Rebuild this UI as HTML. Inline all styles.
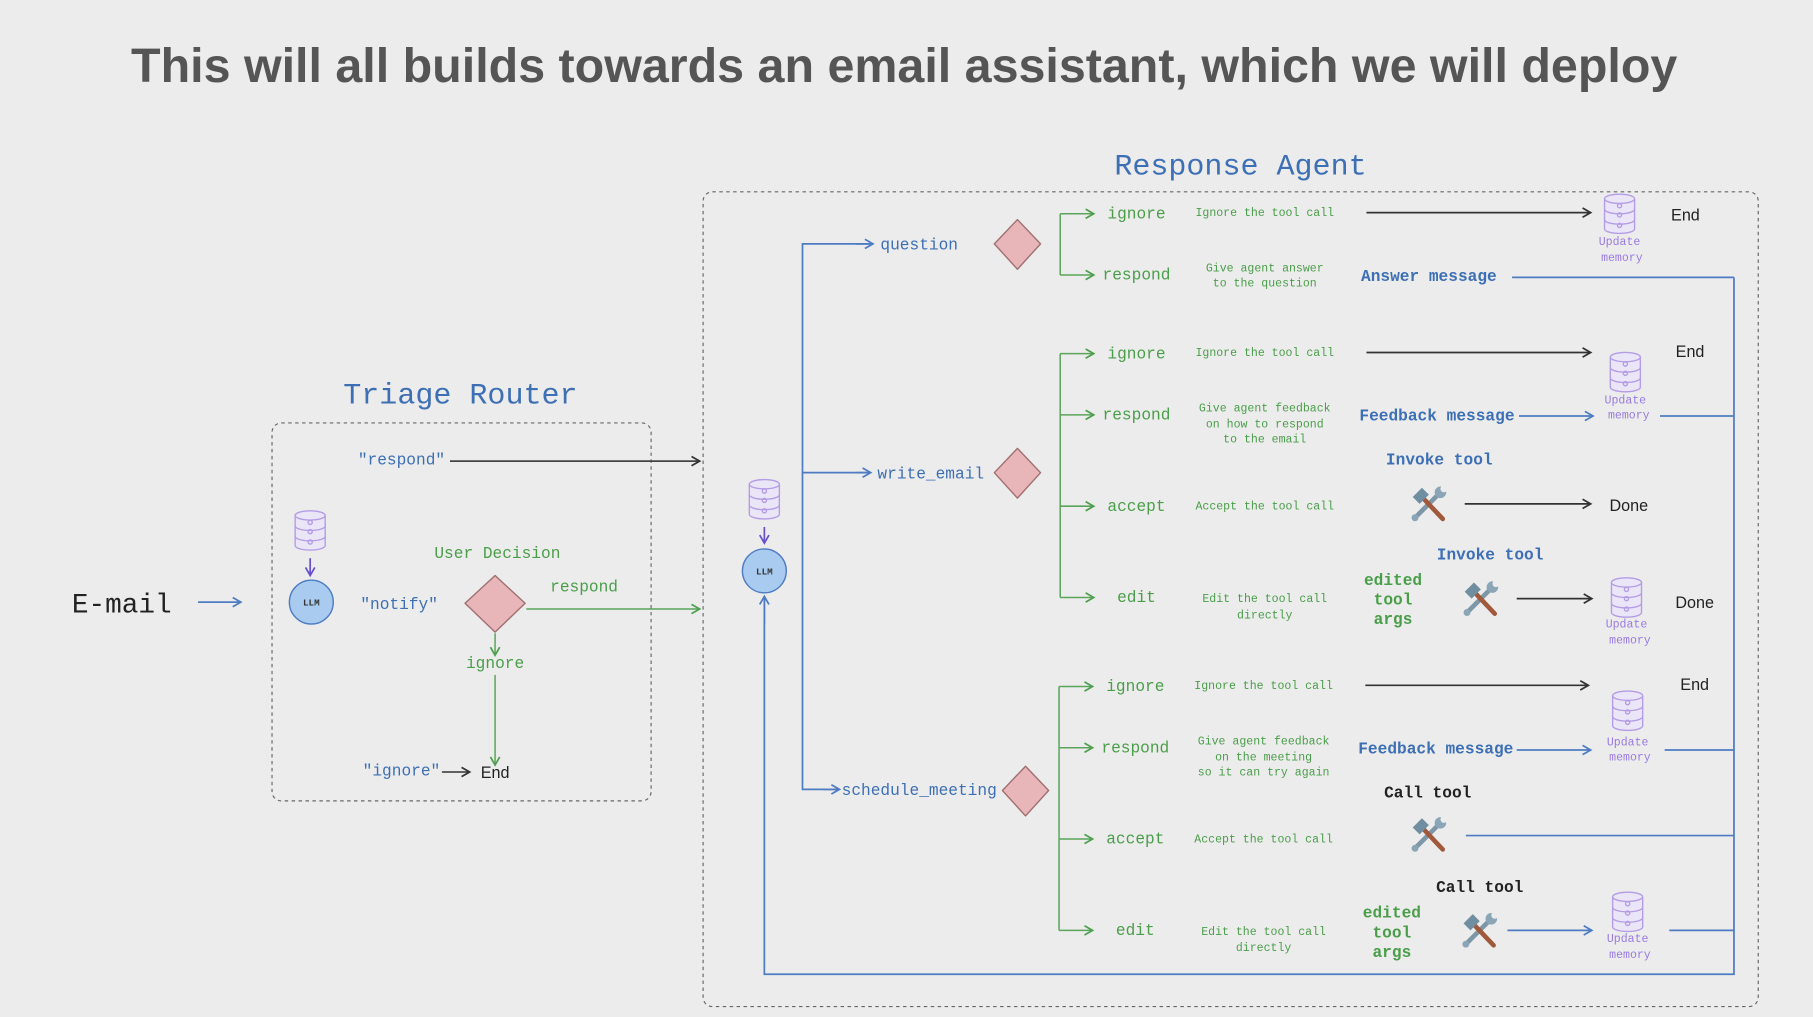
<!DOCTYPE html>
<html><head><meta charset="utf-8"><style>
html,body{margin:0;padding:0;background:#ececec;width:1813px;height:1017px;overflow:hidden}
svg{display:block}
.m{font-family:"Liberation Mono",monospace}
.t{font-family:"Liberation Sans",sans-serif}
.b{fill:#3d6fb5}.g{fill:#4a9e4a}.k{fill:#222}.p{fill:#9a7ae0}
</style></head><body>
<svg width="1813" height="1017" viewBox="0 0 1568 880" xmlns="http://www.w3.org/2000/svg">
<defs>
<marker id="ab" markerWidth="10" markerHeight="10" refX="8" refY="5" orient="auto" markerUnits="userSpaceOnUse"><path d="M1,1 L8,5 L1,9" fill="none" stroke="#4e7cc2" stroke-width="1.5"/></marker>
<marker id="ag" markerWidth="10" markerHeight="10" refX="8" refY="5" orient="auto" markerUnits="userSpaceOnUse"><path d="M1,1 L8,5 L1,9" fill="none" stroke="#4f9f4f" stroke-width="1.5"/></marker>
<marker id="ak" markerWidth="10" markerHeight="10" refX="8" refY="5" orient="auto" markerUnits="userSpaceOnUse"><path d="M1,1 L8,5 L1,9" fill="none" stroke="#333" stroke-width="1.5"/></marker>
<marker id="ap" markerWidth="10" markerHeight="10" refX="8" refY="5" orient="auto" markerUnits="userSpaceOnUse"><path d="M1,1 L8,5 L1,9" fill="none" stroke="#6a4fcf" stroke-width="1.5"/></marker>
<g id="db" fill="#ebe6f7" stroke="#b49ce6" stroke-width="1.2">
<path d="M-13,-13 v26 a13,4 0 0 0 26,0 v-26"/>
<ellipse cx="0" cy="-13" rx="13" ry="4"/>
<path d="M-13,-4 a13,4 0 0 0 26,0 M-13,5 a13,4 0 0 0 26,0" fill="none"/>
<circle cx="0" cy="-7" r="1.8" fill="none"/><circle cx="0" cy="1" r="1.8" fill="none"/><circle cx="0" cy="10" r="1.8" fill="none"/>
</g>
<g id="tool">
<path d="M-11,11 L9,-9" stroke="#7d97a8" stroke-width="4" stroke-linecap="round"/>
<circle cx="10" cy="-10" r="5" fill="#8aa5b6"/><circle cx="13" cy="-13" r="3" fill="#ececec"/>
<circle cx="-12" cy="12" r="3" fill="#8aa5b6"/>
<path d="M-6,-6 L12,13" stroke="#a0593a" stroke-width="4" stroke-linecap="round"/>
<path d="M-14,-6 L-6,-14 L0,-8 L-8,0 Z" fill="#6f8ea0"/>
</g>
</defs>

<text x="113" y="71" textLength="1338" lengthAdjust="spacingAndGlyphs" class="t" font-size="42" font-weight="bold" fill="#555">This will all builds towards an email assistant, which we will deploy</text>

<!-- Triage -->
<text x="398" y="349" text-anchor="middle" class="m b" font-size="26">Triage Router</text>
<rect x="235" y="366" width="328" height="327" rx="8" fill="none" stroke="#666" stroke-width="1" stroke-dasharray="3,3"/>
<text x="105" y="530" text-anchor="middle" class="m k" font-size="24">E-mail</text>
<line x1="171" y1="521" x2="208" y2="521" stroke="#4e7cc2" stroke-width="1.5" marker-end="url(#ab)"/>
<use href="#db" x="268" y="459"/>
<line x1="268" y1="483" x2="268" y2="498" stroke="#6a4fcf" stroke-width="1.5" marker-end="url(#ap)"/>
<circle cx="269" cy="521" r="19" fill="#a9cbef" stroke="#4e7cc2" stroke-width="1.2"/>
<text x="269" y="524" text-anchor="middle" class="m" font-size="8" font-weight="bold" fill="#333">LLM</text>
<text x="347" y="402" text-anchor="middle" class="m b" font-size="14">"respond"</text>
<line x1="389" y1="399" x2="605" y2="399" stroke="#444" stroke-width="1.5" marker-end="url(#ak)"/>
<text x="345" y="527" text-anchor="middle" class="m b" font-size="14">"notify"</text>
<text x="430" y="483" text-anchor="middle" class="m g" font-size="14">User Decision</text>
<path d="M428,498 L454,522 L428,547 L402,522 Z" fill="#e8b5b9" stroke="#a07070" stroke-width="1.2" stroke-linejoin="round"/>
<text x="505" y="512" text-anchor="middle" class="m g" font-size="14">respond</text>
<line x1="455" y1="527" x2="605" y2="527" stroke="#5aa55a" stroke-width="1.3" marker-end="url(#ag)"/>
<line x1="428" y1="548" x2="428" y2="567" stroke="#5aa55a" stroke-width="1.3" marker-end="url(#ag)"/>
<text x="428" y="578" text-anchor="middle" class="m g" font-size="14">ignore</text>
<line x1="428" y1="584" x2="428" y2="662" stroke="#5aa55a" stroke-width="1.3" marker-end="url(#ag)"/>
<text x="347" y="671" text-anchor="middle" class="m b" font-size="14">"ignore"</text>
<line x1="382" y1="668" x2="406" y2="668" stroke="#333" stroke-width="1.3" marker-end="url(#ak)"/>
<text x="428" y="673" text-anchor="middle" class="t k" font-size="14">End</text>

<!-- Response agent -->
<text x="1073" y="151" text-anchor="middle" class="m b" font-size="26">Response Agent</text>
<rect x="608" y="166" width="913" height="705" rx="8" fill="none" stroke="#666" stroke-width="1" stroke-dasharray="3,3"/>
<use href="#db" x="661" y="432"/>
<line x1="661" y1="456" x2="661" y2="470" stroke="#6a4fcf" stroke-width="1.5" marker-end="url(#ap)"/>
<circle cx="661" cy="494" r="19" fill="#a9cbef" stroke="#4e7cc2" stroke-width="1.2"/>
<text x="661" y="497" text-anchor="middle" class="m" font-size="8" font-weight="bold" fill="#333">LLM</text>

<g fill="none" stroke="#4e7cc2" stroke-width="1.5">
<path d="M755,211 H694 V683 H726"/>
<path d="M694,409 H753"/>
<path d="M1500,240 V843 H661 V517"/>
<path d="M1308,240 H1500 M1436,360 H1500 M1440,649 H1500 M1268,723 H1500 M1444,805 H1500"/>
</g>
<line x1="740" y1="211" x2="755" y2="211" stroke="#4e7cc2" stroke-width="1.5" marker-end="url(#ab)"/>
<line x1="740" y1="409" x2="753" y2="409" stroke="#4e7cc2" stroke-width="1.5" marker-end="url(#ab)"/>
<line x1="712" y1="683" x2="726" y2="683" stroke="#4e7cc2" stroke-width="1.5" marker-end="url(#ab)"/>
<line x1="661" y1="540" x2="661" y2="516" stroke="#4e7cc2" stroke-width="1.5" marker-end="url(#ab)"/>

<text x="795" y="216" text-anchor="middle" class="m b" font-size="14">question</text>
<text x="805" y="414" text-anchor="middle" class="m b" font-size="14">write_email</text>
<text x="795" y="688" text-anchor="middle" class="m b" font-size="14">schedule_meeting</text>
<path d="M880,190 L900,211 L880,233 L860,211 Z" fill="#e8b5b9" stroke="#a07070" stroke-width="1.2" stroke-linejoin="round"/>
<path d="M880,388 L900,409 L880,431 L860,409 Z" fill="#e8b5b9" stroke="#a07070" stroke-width="1.2" stroke-linejoin="round"/>
<path d="M887,663 L907,684 L887,706 L867,684 Z" fill="#e8b5b9" stroke="#a07070" stroke-width="1.2" stroke-linejoin="round"/>

<g fill="none" stroke="#5aa55a" stroke-width="1.3">
<path d="M917,185 V238 M917,306 V517 M916,594 V805"/>
</g>
<g stroke="#5aa55a" stroke-width="1.3">
<line x1="917" y1="185" x2="946" y2="185" marker-end="url(#ag)"/>
<line x1="917" y1="238" x2="946" y2="238" marker-end="url(#ag)"/>
<line x1="917" y1="306" x2="946" y2="306" marker-end="url(#ag)"/>
<line x1="917" y1="359" x2="946" y2="359" marker-end="url(#ag)"/>
<line x1="917" y1="438" x2="946" y2="438" marker-end="url(#ag)"/>
<line x1="917" y1="517" x2="946" y2="517" marker-end="url(#ag)"/>
<line x1="916" y1="594" x2="945" y2="594" marker-end="url(#ag)"/>
<line x1="916" y1="647" x2="945" y2="647" marker-end="url(#ag)"/>
<line x1="916" y1="726" x2="945" y2="726" marker-end="url(#ag)"/>
<line x1="916" y1="805" x2="945" y2="805" marker-end="url(#ag)"/>
</g>
<g class="m g" font-size="14" text-anchor="middle">
<text x="983" y="189">ignore</text><text x="983" y="242">respond</text>
<text x="983" y="310">ignore</text><text x="983" y="363">respond</text>
<text x="983" y="442">accept</text><text x="983" y="521">edit</text>
<text x="982" y="598">ignore</text><text x="982" y="651">respond</text>
<text x="982" y="730">accept</text><text x="982" y="809">edit</text>
</g>
<g class="m g" font-size="10" text-anchor="middle">
<text x="1094" y="187">Ignore the tool call</text>
<text x="1094" y="235">Give agent answer</text><text x="1094" y="248">to the question</text>
<text x="1094" y="308">Ignore the tool call</text>
<text x="1094" y="356">Give agent feedback</text><text x="1094" y="370">on how to respond</text><text x="1094" y="383">to the email</text>
<text x="1094" y="441">Accept the tool call</text>
<text x="1094" y="521">Edit the tool call</text><text x="1094" y="535">directly</text>
<text x="1093" y="596">Ignore the tool call</text>
<text x="1093" y="644">Give agent feedback</text><text x="1093" y="658">on the meeting</text><text x="1093" y="671">so it can try again</text>
<text x="1093" y="729">Accept the tool call</text>
<text x="1093" y="809">Edit the tool call</text><text x="1093" y="823">directly</text>
</g>

<g stroke="#333" stroke-width="1.5">
<line x1="1182" y1="184" x2="1376" y2="184" marker-end="url(#ak)"/>
<line x1="1182" y1="305" x2="1376" y2="305" marker-end="url(#ak)"/>
<line x1="1267" y1="436" x2="1376" y2="436" marker-end="url(#ak)"/>
<line x1="1312" y1="518" x2="1377" y2="518" marker-end="url(#ak)"/>
<line x1="1181" y1="593" x2="1374" y2="593" marker-end="url(#ak)"/>
</g>
<g stroke="#4e7cc2" stroke-width="1.5">
<line x1="1314" y1="360" x2="1378" y2="360" marker-end="url(#ab)"/>
<line x1="1312" y1="649" x2="1376" y2="649" marker-end="url(#ab)"/>
<line x1="1304" y1="805" x2="1377" y2="805" marker-end="url(#ab)"/>
</g>

<g class="m b" font-size="14" font-weight="bold">
<text x="1236" y="243" text-anchor="middle">Answer message</text>
<text x="1243" y="364" text-anchor="middle">Feedback message</text>
<text x="1242" y="652" text-anchor="middle">Feedback message</text>
<text x="1245" y="402" text-anchor="middle">Invoke tool</text>
<text x="1289" y="484" text-anchor="middle">Invoke tool</text>
</g>
<g class="m k" font-size="14" font-weight="bold" text-anchor="middle">
<text x="1235" y="690">Call tool</text>
<text x="1280" y="772">Call tool</text>
</g>
<g class="m g" font-size="14" font-weight="bold" text-anchor="middle">
<text x="1205" y="506">edited</text><text x="1205" y="523">tool</text><text x="1205" y="540">args</text>
<text x="1204" y="794">edited</text><text x="1204" y="811">tool</text><text x="1204" y="828">args</text>
</g>
<g class="t k" font-size="14" text-anchor="middle">
<text x="1458" y="191">End</text><text x="1462" y="309">End</text>
<text x="1409" y="442">Done</text><text x="1466" y="526">Done</text>
<text x="1466" y="597">End</text>
</g>

<use href="#tool" x="1236" y="436"/>
<use href="#tool" x="1281" y="518"/>
<use href="#tool" x="1236" y="722"/>
<use href="#tool" x="1280" y="805"/>

<use href="#db" x="1401" y="185"/>
<use href="#db" x="1406" y="322"/>
<use href="#db" x="1407" y="517"/>
<use href="#db" x="1408" y="615"/>
<use href="#db" x="1408" y="789"/>
<g class="m p" font-size="10" text-anchor="middle">
<text x="1401" y="212">Update</text><text x="1403" y="226">memory</text>
<text x="1406" y="349">Update</text><text x="1409" y="362">memory</text>
<text x="1407" y="543">Update</text><text x="1410" y="557">memory</text>
<text x="1408" y="645">Update</text><text x="1410" y="658">memory</text>
<text x="1408" y="815">Update</text><text x="1410" y="829">memory</text>
</g>
</svg>
</body></html>
